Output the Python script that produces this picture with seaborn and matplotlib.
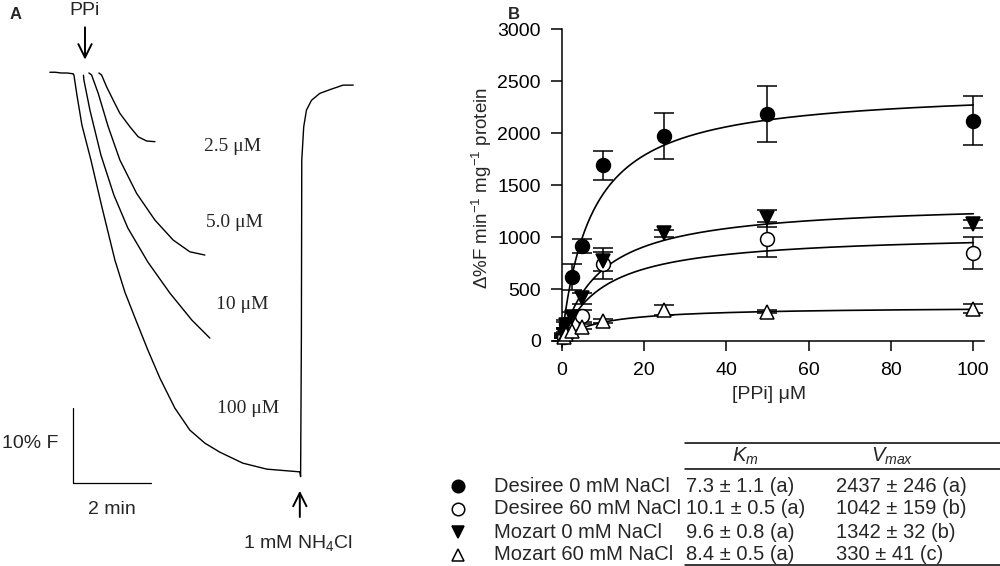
import numpy as np
import pandas as pd
import matplotlib
matplotlib.use('Agg')
import matplotlib.pyplot as plt
import seaborn as sns

# ---- panel A: fluorescence traces (time in min from PPi addition, %F from baseline)
base_t = [-0.59, -0.45, -0.30, -0.15, 0.0]
base_f = [0.1, 0.1, 0.0, 0.0, -0.1]

t_100 = [0.00, 0.026, 0.103, 0.231, 0.462, 0.744, 1.077, 1.333, 1.615, 1.923, 2.231, 2.615,
         3.000, 3.385, 3.769, 4.359, 4.974, 5.821, 5.84, 5.86, 5.87, 5.92, 5.99, 6.12, 6.33,
         6.59, 6.93, 7.19]
f_100 = [-0.1, -0.26, -2.91, -6.87, -11.49, -17.70, -24.70, -28.93, -32.63, -36.59, -40.29, -44.25,
         -47.16, -48.88, -50.07, -51.52, -52.31, -52.67, -53.3, -35.0, -11.5, -7.1, -4.9, -3.6, -2.7,
         -2.2, -1.6, -1.6]
t_10 = [0.27, 0.282, 0.436, 0.718, 1.051, 1.410, 1.923, 2.487, 3.051, 3.513]
f_10 = [-0.3, -0.92, -4.89, -10.83, -16.12, -20.48, -24.97, -29.06, -32.63, -35.01]
t_5 = [0.41, 0.479, 0.649, 0.905, 1.205, 1.633, 2.103, 2.572, 3.000, 3.385]
f_5 = [0.0, -0.26, -2.68, -7.09, -11.49, -15.89, -19.42, -22.06, -23.61, -24.04]
t_25 = [0.667, 0.735, 0.863, 1.032, 1.205, 1.462, 1.674, 1.890, 2.103]
f_25 = [0.0, -0.26, -1.81, -3.57, -5.33, -7.10, -8.42, -8.98, -9.07]
trace_labels = ['2.5 \u03bcM', '5.0 \u03bcM', '10 \u03bcM', '100 \u03bcM']

# ---- panel B: PPi hydrolysis data
ppi = [0.5, 1, 2.5, 5, 10, 25, 50, 100]
des0_y = [50, 160, 620, 915, 1690, 1970, 2185, 2120]
des0_e = [20, 40, 125, 65, 140, 220, 272, 233]
des60_x = [0.5, 1, 2.5, 5, 10, 50, 100]
des60_y = [40, 90, 160, 240, 745, 980, 845]
des60_e = [15, 25, 40, 60, 145, 168, 154]
moz0_y = [60, 150, 230, 410, 765, 1035, 1180, 1125]
moz0_e = [20, 30, 50, 50, 90, 30, 80, 40]
moz60_y = [40, 70, 100, 138, 196, 298, 282, 312]
moz60_e = [10, 15, 20, 25, 20, 45, 15, 40]

strains = ['Desiree 0 mM NaCl', 'Desiree 60 mM NaCl', 'Mozart 0 mM NaCl', 'Mozart 60 mM NaCl']
km = [7.3, 10.1, 9.6, 8.4]
vmax = [2437, 1042, 1342, 330]
km_text = ['7.3 \u00b1 1.1 (a)', '10.1 \u00b1 0.5 (a)', '9.6 \u00b1 0.8 (a)', '8.4 \u00b1 0.5 (a)']
vmax_text = ['2437 \u00b1 246 (a)', '1042 \u00b1 159 (b)', '1342 \u00b1 32 (b)', '330 \u00b1 41 (c)']

sns.set_theme(style='ticks')
plt.rcParams['font.family'] = ['Liberation Sans', 'DejaVu Sans']
plt.rcParams['mathtext.fontset'] = 'custom'
plt.rcParams['mathtext.rm'] = 'Liberation Sans'
plt.rcParams['mathtext.it'] = 'Liberation Sans:italic'

fig = plt.figure(figsize=(10, 5.66), dpi=100)

# ---------------- panel A
axA = fig.add_axes([0, 0, 0.37, 1])
axA.set_xlim(-1.87, 7.62)
axA.set_ylim(-65.1, 9.64)
axA.axis('off')
for tt, ff in [(base_t, base_f), (t_100, f_100), (t_10, f_10), (t_5, f_5), (t_25, f_25)]:
    sns.lineplot(x=tt, y=ff, sort=False, estimator=None, color='black', lw=1.0, ax=axA)

serif = ['Liberation Serif', 'DejaVu Serif']
for lab, (tx, fy) in zip(trace_labels, [(4.10, -9.7), (4.15, -19.8), (4.35, -30.6), (4.49, -44.3)]):
    axA.text(tx, fy, lab, family=serif, fontsize=14, ha='center', va='center')

# scale bar
axA.plot([0, 0, 2], [-44.2, -54.2, -54.2], color='black', lw=0.9)
axA.text(-1.1, -48.9, '10% F', fontsize=14, ha='center', va='center')
axA.text(1.0, -57.6, '2 min', fontsize=14, ha='center', va='center')

# additions
axA.annotate('', xy=(0.31, 1.4), xytext=(0.31, 6.4),
             arrowprops=dict(arrowstyle='->', color='black', lw=1.4, mutation_scale=24))
axA.text(0.31, 8.2, 'PPi', fontsize=14, ha='center', va='center')
axA.annotate('', xy=(5.82, -54.8), xytext=(5.82, -59.0),
             arrowprops=dict(arrowstyle='->', color='black', lw=1.4, mutation_scale=24))
axA.text(5.77, -62.1, '1 mM NH$_4$Cl', fontsize=14, ha='center', va='center')

# ---------------- panel B
axB = fig.add_axes([0.5533, 0.3875, 0.4307, 0.5608])
fx = np.linspace(0, 100, 400)
styles = [
    (ppi, des0_y, des0_e, 'o', 'black'),
    (des60_x, des60_y, des60_e, 'o', 'white'),
    (ppi, moz0_y, moz0_e, 'v', 'black'),
    (ppi, moz60_y, moz60_e, '^', 'white'),
]
for k, v in zip(km, vmax):
    fit = pd.DataFrame({'x': fx, 'y': v * fx / (k + fx)})
    sns.lineplot(data=fit, x='x', y='y', color='black', lw=1.2, ax=axB)
for xs, ys, es, mk, fc in styles:
    axB.errorbar(xs, ys, yerr=es, fmt=mk, ms=10, mfc=fc, mec='black', mew=1.1,
                 ecolor='black', elinewidth=1.1, capsize=7, capthick=1.1, zorder=3)

axB.set_xlim(-2.0, 102.6)
axB.set_ylim(-55, 3000)
axB.spines['left'].set_position(('data', 0))
axB.spines['bottom'].set_position(('data', 0))
axB.spines['top'].set_visible(False)
axB.spines['right'].set_visible(False)
for s in ['left', 'bottom']:
    axB.spines[s].set_linewidth(1.1)
    axB.spines[s].set_color('black')
axB.set_xticks([0, 20, 40, 60, 80, 100])
axB.set_yticks(np.arange(0, 3001, 500))
axB.tick_params(axis='x', direction='out', length=7, width=1.1, pad=8, labelsize=14, colors='black')
axB.tick_params(axis='y', direction='out', length=8, width=1.1, pad=7, labelsize=14, colors='black')
axB.set_xlabel('[PPi] \u03bcM', fontsize=14, labelpad=5)
axB.set_ylabel('\u0394%F min$^{-1}$ mg$^{-1}$ protein', fontsize=13.5, labelpad=2)

# ---------------- table (figure pixel layout)
axT = fig.add_axes([0, 0, 1, 1], zorder=-1)
axT.set_xlim(0, 1000)
axT.set_ylim(566, 0)
axT.axis('off')
for yy in [443, 469, 565]:
    axT.plot([685, 1000], [yy, yy], color='black', lw=1.1)
axT.text(745, 456, '$K_m$', fontsize=14.5, ha='center', va='center')
axT.text(892, 456, '$V_{max}$', fontsize=14.5, ha='center', va='center')
row_marks = [('o', 'black'), ('o', 'white'), ('v', 'black'), ('^', 'white')]
for i, (name, kt, vt) in enumerate(zip(strains, km_text, vmax_text)):
    yy = 486 + 23 * i
    mk, fc = row_marks[i]
    axT.plot([458], [yy], marker=mk, ms=9, mfc=fc, mec='black', mew=1.1, ls='none')
    axT.text(494, yy, name, fontsize=14.5, ha='left', va='center')
    axT.text(686, yy, kt, fontsize=14.5, ha='left', va='center')
    axT.text(836, yy, vt, fontsize=14.5, ha='left', va='center')

fig.text(0.010, 0.975, 'A', fontsize=12, fontweight='bold', va='center')
fig.text(0.508, 0.975, 'B', fontsize=12, fontweight='bold', va='center')

fig.savefig('out.png', dpi=100)
